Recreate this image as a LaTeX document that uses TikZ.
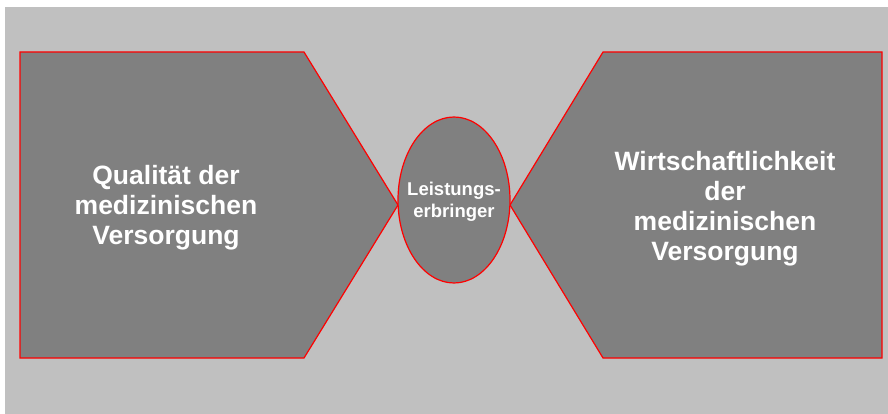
\documentclass[tikz,border=0pt]{standalone}
\usepackage{fontspec}
\setmainfont{Liberation Sans}
\definecolor{bggray}{HTML}{C0C0C0}
\definecolor{boxgray}{HTML}{808080}
\tikzset{
	feld/.style = {fill = boxgray, draw = red, line width = 1.2pt, line join = miter},
	gross/.style = {text = white, align = center, font = \bfseries\fontsize{26.5}{30}\selectfont},
	klein/.style = {text = white, align = center, font = \bfseries\fontsize{18.5}{22}\selectfont}
}
\begin{document}
\begin{tikzpicture}[x = 1pt, y = -1pt]
	\useasboundingbox (0,0) rectangle (888,414);
	\fill [bggray] (5,7) rectangle (888,414);
	\draw [feld] (20,52) -- (304,52) -- (398,205) -- (304,358) -- (20,358) -- cycle;
	\draw [feld] (882,52) -- (603,52) -- (510,205) -- (603,358) -- (882,358) -- cycle;
	\draw [feld] (454,200) ellipse [x radius = 56, y radius = 83];
	\node [gross] (qualitaet) at (166,208) {Qualität der\\medizinischen\\Versorgung};
	\node [gross] (wirtschaft) at (725,209) {Wirtschaftlichkeit\\der\\medizinischen\\Versorgung};
	\node [klein] (erbringer) at (454,202) {Leistungs-\\erbringer};
\end{tikzpicture}
\end{document}
